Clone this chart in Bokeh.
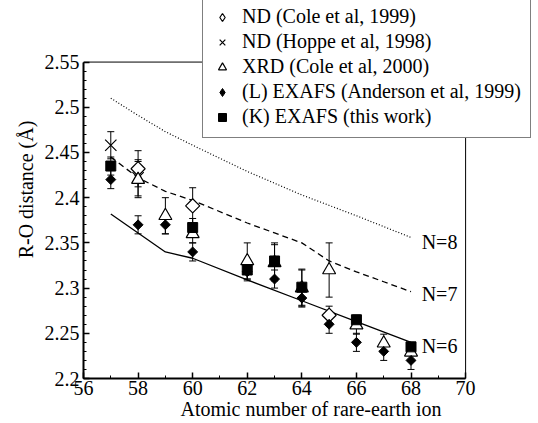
import math
from bokeh.plotting import figure
from bokeh.models import (ColumnDataSource, Whisker, TeeHead, Legend, LegendItem,
                          FixedTicker, Label, Range1d)
from bokeh.embed import file_html
from bokeh.resources import INLINE

# ---- data ----
# model curves (sum of ionic radii) for coordination numbers 8, 7, 6
z_n8 = [57, 58, 59, 60, 62, 63, 64, 66, 68]
r_n8 = [2.510, 2.491, 2.473, 2.458, 2.429, 2.416, 2.403, 2.380, 2.356]
z_n7 = [57, 58, 59, 60, 62, 63, 64, 65, 66, 67, 68]
r_n7 = [2.445, 2.422, 2.407, 2.397, 2.372, 2.361, 2.350, 2.330, 2.318, 2.307, 2.296]
z_n6 = [57, 58, 59, 60, 62, 64, 66, 68]
r_n6 = [2.382, 2.361, 2.340, 2.333, 2.309, 2.286, 2.263, 2.240]

# ND (Cole et al, 1999)
z_nd_cole = [58, 60, 65]
r_nd_cole = [2.432, 2.391, 2.270]
e_nd_cole = [0.02, 0.02, 0.01]
# ND (Hoppe et al, 1998)
z_nd_hoppe = [57, 58]
r_nd_hoppe = [2.458, 2.422]
e_nd_hoppe = [0.015, 0.02]
# XRD (Cole et al, 2000)
z_xrd = [58, 59, 60, 62, 63, 64, 65, 66, 67, 68]
r_xrd = [2.420, 2.380, 2.360, 2.330, 2.328, 2.300, 2.320, 2.259, 2.239, 2.229]
e_xrd = [0.02, 0.02, 0.01, 0.02, 0.02, 0.02, 0.03, 0.01, 0.01, 0.01]
# (L) EXAFS (Anderson et al, 1999)
z_l = [57, 58, 59, 60, 62, 63, 64, 65, 66, 67, 68]
r_l = [2.420, 2.370, 2.370, 2.340, 2.318, 2.310, 2.289, 2.260, 2.240, 2.230, 2.220]
e_l = [0.01, 0.01, 0.01, 0.01, 0.01, 0.01, 0.01, 0.01, 0.01, 0.01, 0.01]
# (K) EXAFS (this work)
z_k = [57, 60, 62, 63, 64, 66, 68]
r_k = [2.435, 2.367, 2.320, 2.330, 2.301, 2.265, 2.235]
e_k = [0.01, 0.01, 0.01, 0.02, 0.02, 0.005, 0.005]

x_ticks = [56, 58, 60, 62, 64, 66, 68, 70]
y_ticks = [2.2, 2.25, 2.3, 2.35, 2.4, 2.45, 2.5, 2.55]
y_tick_labels = ["2.2", "2.25", "2.3", "2.35", "2.4", "2.45", "2.5", "2.55"]
curve_labels = ["N=8", "N=7", "N=6"]
curve_label_y = [2.351, 2.294, 2.2365]

legend_labels = ["ND (Cole et al, 1999)", "ND (Hoppe et al, 1998)",
                 "XRD (Cole et al, 2000)", "(L) EXAFS (Anderson et al, 1999)",
                 "(K) EXAFS (this work)"]

FONT = "Liberation Serif"
FS = "20px"

x0, x1 = x_ticks[0], x_ticks[-1]
y0, y1 = y_ticks[0], y_ticks[-1]
px_per_x = 27.33
px_per_y = 903.0

p = figure(width=538, height=423, output_backend="svg", toolbar_location=None,
           x_range=Range1d(x0, x1 + 73 / px_per_x),
           y_range=Range1d(y0, y1 + 61.5 / px_per_y),
           min_border_left=83, min_border_right=0, min_border_top=0,
           min_border_bottom=45)
p.xgrid.visible = False
p.ygrid.visible = False
p.outline_line_color = None
p.background_fill_color = "white"
p.border_fill_color = "white"

for ax in (p.xaxis[0], p.yaxis[0]):
    ax.axis_line_width = 2
    ax.axis_line_color = "black"
    ax.major_tick_in = 6
    ax.major_tick_out = 0
    ax.minor_tick_in = 3
    ax.minor_tick_out = 0
    ax.major_tick_line_width = 1.5
    ax.minor_tick_line_width = 1
    ax.major_label_text_font = FONT
    ax.major_label_text_font_size = FS
    ax.major_label_text_color = "black"
    ax.axis_label_text_font = FONT
    ax.axis_label_text_font_size = FS
    ax.axis_label_text_font_style = "normal"
    ax.axis_label_text_color = "black"

p.xaxis.bounds = (x0, x1)
p.yaxis.bounds = (y0, y1)
p.xaxis.ticker = FixedTicker(ticks=x_ticks, minor_ticks=list(range(x0, x1 + 1)))
p.yaxis.ticker = FixedTicker(ticks=y_ticks,
                             minor_ticks=[round(y0 + 0.01 * i, 2) for i in range(36)])
p.yaxis.major_label_overrides = {t: l for t, l in zip(y_ticks, y_tick_labels)}
p.xaxis.major_label_standoff = 2
p.yaxis.major_label_standoff = 4
p.xaxis.axis_label = "Atomic number of rare-earth ion"
p.yaxis.axis_label = "R-O distance (Å)"
p.xaxis.axis_label_standoff = 0
p.yaxis.axis_label_standoff = 5

# frame top and right edges
p.segment(x0=[x0, x1], y0=[y1, y0], x1=[x1, x1], y1=[y1, y1],
          line_color="black", line_width=1)

# model curves
p.line(z_n8, r_n8, line_color="black", line_width=1.2, line_dash="1 2")
p.line(z_n7, r_n7, line_color="black", line_width=1.3, line_dash="6 4")
p.line(z_n6, r_n6, line_color="black", line_width=1.3)

for txt, yy in zip(curve_labels, curve_label_y):
    p.add_layout(Label(x=68.39, y=yy, text=txt, text_font=FONT, text_font_size=FS,
                       text_baseline="middle", text_color="black"))

def add_err(z, r, e):
    src = ColumnDataSource(dict(x=z, upper=[a + b for a, b in zip(r, e)],
                                lower=[a - b for a, b in zip(r, e)]))
    w = Whisker(source=src, base="x", upper="upper", lower="lower",
                line_color="black", line_width=1,
                upper_head=TeeHead(size=7, line_color="black", line_width=1),
                lower_head=TeeHead(size=7, line_color="black", line_width=1))
    p.add_layout(w)

for z, r, e in [(z_nd_cole, r_nd_cole, e_nd_cole), (z_nd_hoppe, r_nd_hoppe, e_nd_hoppe),
                (z_xrd, r_xrd, e_xrd), (z_l, r_l, e_l), (z_k, r_k, e_k)]:
    add_err(z, r, e)

rot = math.pi / 4
p.scatter(z_nd_cole, r_nd_cole, marker="square", angle=rot, size=10,
          fill_color="white", line_color="black", line_width=1.2)
r2 = p.scatter(z_nd_hoppe, r_nd_hoppe, marker="x", size=16, line_color="black",
               line_width=1.2)
r3 = p.scatter(z_xrd, r_xrd, marker="triangle", size=13, fill_color="white",
               line_color="black", line_width=1.2)
p.scatter(z_l, r_l, marker="square", angle=rot, size=7, fill_color="black",
          line_color="black", line_width=1)
r5 = p.scatter(z_k, r_k, marker="square", size=10, fill_color="black",
               line_color="black", line_width=1)

# hidden diamond renderers that only supply the legend glyphs
# (the legend does not rotate the square markers used above)
r1 = p.scatter(z_nd_cole, r_nd_cole, marker="diamond", size=12, fill_color="white",
               line_color="black", line_width=1.2, visible=False)
r4 = p.scatter(z_l, r_l, marker="diamond", size=9, fill_color="black",
               line_color="black", line_width=1, visible=False)

items = [LegendItem(label=lab, renderers=[rr]) for lab, rr in
         zip(legend_labels, [r1, r2, r3, r4, r5])]
legend = Legend(items=items, location=(119, 240), orientation="vertical",
                label_text_font=FONT, label_text_font_size=FS,
                label_text_color="black", label_height=20, label_standoff=10,
                glyph_width=20, glyph_height=20, spacing=2, padding=9, margin=0,
                border_line_color="black", border_line_width=1,
                background_fill_color="white", background_fill_alpha=1)
p.add_layout(legend)

open("out.html", "w").write(file_html(p, INLINE))
